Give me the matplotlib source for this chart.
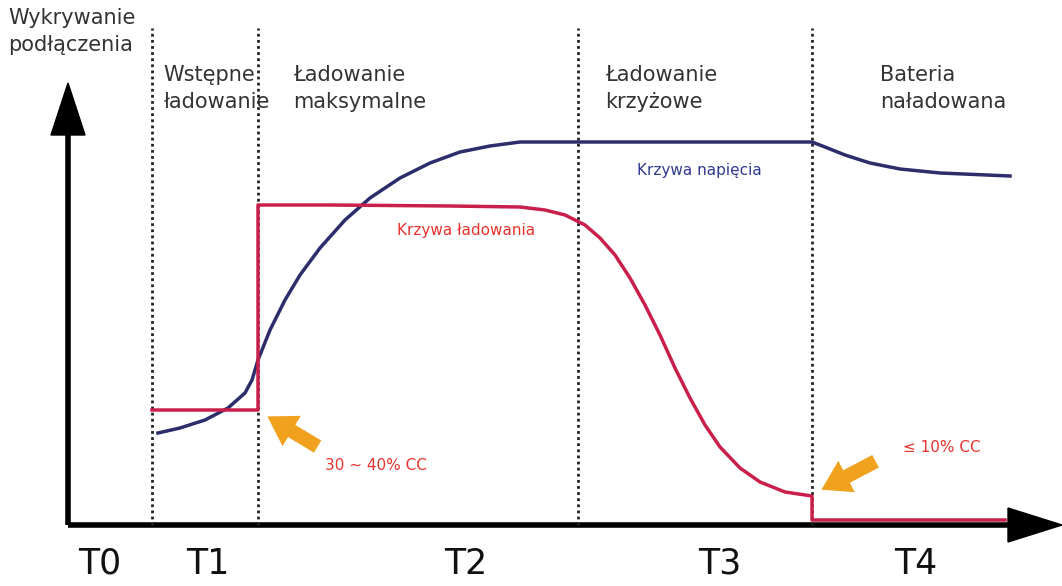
import matplotlib.pyplot as plt
from matplotlib.patches import FancyArrow

# Dane (jednostki: oś czasu i poziom względem początku układu)
granice_faz = [84, 190, 510, 744]
etykiety_faz = ["Wstępne\nładowanie", "Ładowanie\nmaksymalne", "Ładowanie\nkrzyżowe", "Bateria\nnaładowana"]
pozycje_faz = [95, 225, 537, 812]
etykiety_t = ["T0", "T1", "T2", "T3", "T4"]
pozycje_t = [32, 140, 398, 652, 848]

napiecie_x = [90, 112, 137, 160, 177, 184, 190, 202, 217, 232, 252, 277, 302, 332, 362, 392, 422,
              452, 744, 757, 777, 802, 832, 872, 942]
napiecie_y = [92, 97, 105, 117, 132, 145, 165, 195, 225, 250, 277, 305, 327, 347, 362, 373, 379,
              383, 383, 378, 370, 362, 356, 352, 349]

prad_x = [84, 190, 190, 262, 382, 452, 477, 497, 517, 532, 547, 562, 577, 592, 607, 622, 637, 652,
          672, 692, 717, 744, 744, 937]
prad_y = [115, 115, 320, 320, 319, 318, 315, 310, 300, 287, 270, 247, 220, 190, 157, 127, 100, 78,
          57, 43, 33, 29, 5, 5]

KOLOR_NAP = "#2b2e6b"
KOLOR_PRAD = "#c91f4b"
KOLOR_STRZALKI = "#f0a21e"
KOLOR_TEKST = "#333333"

fig = plt.figure(figsize=(10.62, 5.86), dpi=100)
ax = fig.add_axes([0, 0, 1, 1])
# piksel (68, 525) to początek układu
ax.set_xlim(-68, 1062 - 68)
ax.set_ylim(525 - 586, 525)
ax.axis("off")

# osie ze strzałkami
ax.plot([0, 0], [0, 400], color="black", lw=4, solid_capstyle="butt")
ax.add_patch(FancyArrow(0, 390, 0, 52, width=0, head_width=34, head_length=52,
                        length_includes_head=True, color="black"))
ax.plot([0, 950], [0, 0], color="black", lw=4, solid_capstyle="butt")
ax.add_patch(FancyArrow(940, 0, 54, 0, width=0, head_width=34, head_length=54,
                        length_includes_head=True, color="black"))

# granice faz
for gx in granice_faz:
    ax.plot([gx, gx], [0, 497], color="#222222", lw=2, linestyle=(0, (1, 1.2)))

# krzywe
ax.plot(napiecie_x, napiecie_y, color=KOLOR_NAP, lw=2.5, solid_joinstyle="round")
ax.plot(prad_x, prad_y, color=KOLOR_PRAD, lw=2.5, solid_joinstyle="round")

# strzałki
styl = "simple,head_width=1.5,head_length=1.2,tail_width=0.6"
ax.annotate("", xy=(197, 110), xytext=(252, 77),
            arrowprops=dict(arrowstyle=styl, color=KOLOR_STRZALKI, lw=0, mutation_scale=17))
ax.annotate("", xy=(751, 34), xytext=(810, 65),
            arrowprops=dict(arrowstyle=styl, color=KOLOR_STRZALKI, lw=0, mutation_scale=17))

# teksty
ax.text(-60, 517, "Wykrywanie\npodłączenia", fontsize=15, color=KOLOR_TEKST,
        va="top", ha="left", linespacing=1.45)
for tx, tl in zip(pozycje_faz, etykiety_faz):
    ax.text(tx, 460, tl, fontsize=15, color=KOLOR_TEKST, va="top", ha="left", linespacing=1.45)
for tx, tl in zip(pozycje_t, etykiety_t):
    ax.text(tx, -22, tl, fontsize=25, color="#111111", va="top", ha="center")

ax.text(569, 355, "Krzywa napięcia", fontsize=11, color="#2e3a8c", va="center", ha="left")
ax.text(329, 295, "Krzywa ładowania", fontsize=11, color="#e8322d", va="center", ha="left")
ax.text(257, 60, "30 ~ 40% CC", fontsize=11, color="#e8322d", va="center", ha="left")
ax.text(835, 78, "≤ 10% CC", fontsize=11, color="#e8322d", va="center", ha="left")

fig.savefig("out.png", dpi=100)
